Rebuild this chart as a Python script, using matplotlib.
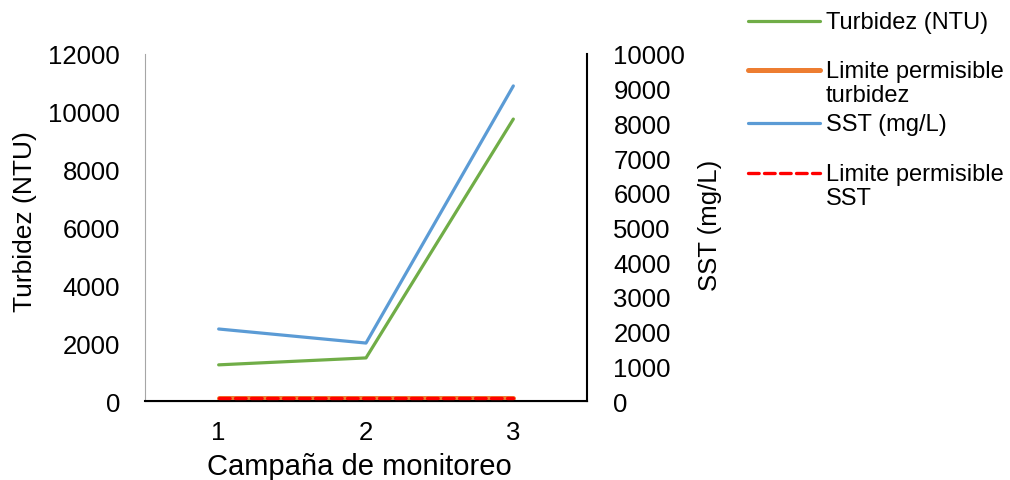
import matplotlib.pyplot as plt
from matplotlib.lines import Line2D

plt.rcParams['font.family'] = ['Liberation Sans', 'DejaVu Sans']

campanas = ['1', '2', '3']
turbidez = [1250, 1490, 9750]
lim_turbidez = [100, 100, 100]
sst = [2075, 1670, 9080]
lim_sst = [100, 100, 100]

x = [1, 2, 3]

W, H = 1010, 481
fig = plt.figure(figsize=(W / 100, H / 100), dpi=100)
ax = fig.add_axes([145 / W, 1 - 402 / H, 442 / W, 347 / H])
ax2 = ax.twinx()

estilos = [
    dict(color='#70AD47', lw=2.3, solid_capstyle='round'),
    dict(color='#ED7D31', lw=3.6, solid_capstyle='round'),
    dict(color='#5B9BD5', lw=2.3, solid_capstyle='round'),
    dict(color='#FF0000', lw=2.4, ls=(0, (3.2, 1.6)), dash_capstyle='round'),
]

ax.plot(x, turbidez, **estilos[0])
ax.plot(x, lim_turbidez, **estilos[1])
ax2.plot(x, sst, **estilos[2])
ax2.plot(x, lim_sst, **estilos[3])

ax.set_xlim(0.5, 3.5)
ax.set_ylim(0, 12000)
ax2.set_ylim(0, 10000)
ax.set_xticks(x)
ax.set_xticklabels(campanas)
ax.set_yticks(range(0, 12001, 2000))
ax2.set_yticks(range(0, 10001, 1000))

ax.tick_params(axis='y', length=0, labelsize=18.5, pad=18)
ax2.tick_params(axis='y', length=0, labelsize=18.5, pad=19)
ax.tick_params(axis='x', length=0, labelsize=18.5, pad=14)

for a in (ax, ax2):
    a.spines['top'].set_visible(False)
ax.spines['left'].set_color('#A6A6A6')
ax2.spines['left'].set_visible(False)
ax.spines['right'].set_visible(False)
ax2.spines['right'].set_color('black')
ax2.spines['right'].set_linewidth(1.5)
ax.spines['bottom'].set_color('black')
ax.spines['bottom'].set_linewidth(1.5)

ax.set_xlabel('Campaña de monitoreo', fontsize=21)
ax.xaxis.set_label_coords(0.486, -0.210)
ax.xaxis.label.set_va('baseline')
ax.set_ylabel('Turbidez (NTU)', fontsize=19)
ax.yaxis.set_label_coords(-0.271, 0.519)
ax.yaxis.label.set_va('center')
ax2.set_ylabel('SST (mg/L)', fontsize=18.5)
ax2.yaxis.set_label_coords(1.278, 0.51)
ax2.yaxis.label.set_va('center')

# leyenda a la derecha, con el simbolo alineado a la primera linea del texto
etiquetas = ['Turbidez (NTU)', 'Limite permisible\nturbidez', 'SST (mg/L)', 'Limite permisible\nSST']
ys = [22, 71, 124, 174]
for est, lab, yp in zip(estilos, etiquetas, ys):
    fig.add_artist(Line2D([748 / W, 820 / W], [1 - yp / H] * 2,
                          transform=fig.transFigure, **est))
    fig.text(826 / W, 1 - (yp - 10) / H, lab, fontsize=17, va='top', ha='left',
             linespacing=1.12)

fig.savefig('out.png', dpi=100)
